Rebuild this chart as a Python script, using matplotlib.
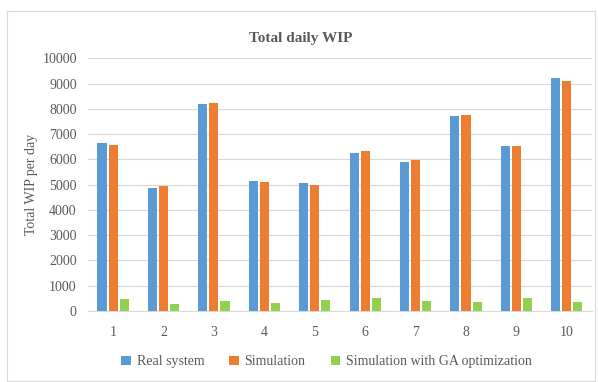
import numpy as np
import matplotlib.pyplot as plt
from matplotlib.patches import Rectangle

days = [1, 2, 3, 4, 5, 6, 7, 8, 9, 10]
real_system = [6650, 4870, 8200, 5150, 5050, 6240, 5880, 7730, 6530, 9230]
simulation = [6575, 4950, 8250, 5110, 4980, 6330, 5970, 7745, 6530, 9090]
simulation_ga = [490, 290, 380, 310, 430, 530, 405, 340, 515, 340]

plt.rcParams['font.family'] = ['Liberation Serif', 'DejaVu Serif']
txt = '#595959'

fig = plt.figure(figsize=(5.98, 3.82), dpi=100)
fig.patches.append(Rectangle((7 / 598, 0.003), 0.995 - 7 / 598, 1 - 11 / 382 - 0.003,
                             transform=fig.transFigure, fill=False,
                             edgecolor='#d9d9d9', linewidth=0.8))

ax = fig.add_axes([0.147, 0.186, 0.843, 0.661])
x = np.arange(len(days))
w = 0.18
ax.bar(x - 0.22, real_system, w, color='#5B9BD5', label='Real system', zorder=3)
ax.bar(x, simulation, w, color='#ED7D31', label='Simulation', zorder=3)
ax.bar(x + 0.22, simulation_ga, w, color='#92D050', label='Simulation with GA optimization', zorder=3)

ax.set_xlim(-0.5, len(days) - 0.5)
ax.set_ylim(0, 10000)
ax.set_yticks(range(0, 10001, 1000))
ax.set_xticks(x)
ax.set_xticklabels([str(d) for d in days])
ax.grid(axis='y', color='#d9d9d9', linewidth=0.8, zorder=0)
for s in ['top', 'right', 'left']:
    ax.spines[s].set_visible(False)
ax.spines['bottom'].set_color('#d9d9d9')
ax.tick_params(axis='both', length=0, labelsize=10, colors=txt, pad=8)
ax.tick_params(axis='x', pad=11)
ax.set_ylabel('Total WIP per day', fontsize=10, color=txt, labelpad=3)

fig.text(0.502, 0.9, 'Total daily WIP', ha='center', va='center',
         fontsize=11, fontweight='bold', color=txt)

fig.legend(loc='center', bbox_to_anchor=(0.546, 0.053), ncol=3, frameon=False,
           fontsize=10, labelcolor=txt, handlelength=0.7, handleheight=0.7,
           handletextpad=0.4, columnspacing=1.8)

fig.savefig('out.png', dpi=100)
